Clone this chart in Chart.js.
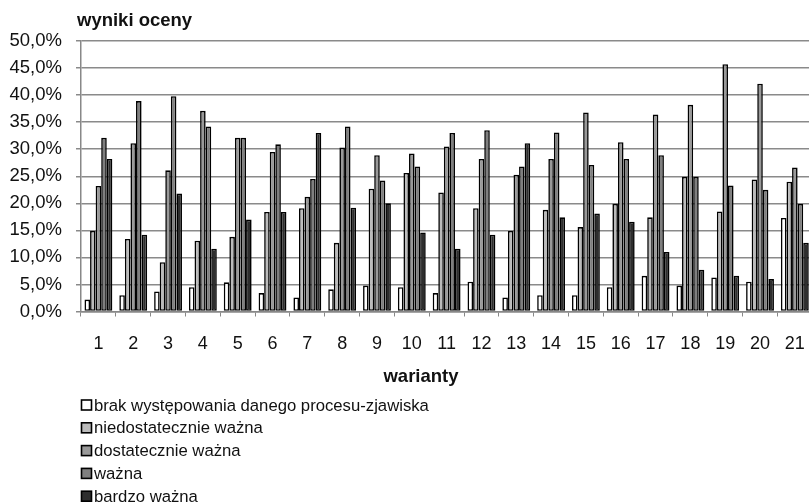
<!DOCTYPE html>
<html>
<head>
<meta charset="utf-8">
<script src="https://cdn.jsdelivr.net/npm/chart.js@4/dist/chart.umd.min.js"></script>
<style>
  html, body { margin: 0; padding: 0; background: #fff; }
  #wrap { width: 809px; height: 503px; overflow: hidden; position: relative; }
</style>
</head>
<body>
<div id="wrap"><canvas id="chart" width="822" height="503"></canvas></div>
<script>
// dane (w %)
const warianty = ['1','2','3','4','5','6','7','8','9','10','11','12','13','14','15','16','17','18','19','20','21'];
const nazwySerii = ['brak występowania danego procesu-zjawiska', 'niedostatecznie ważna', 'dostatecznie ważna', 'ważna', 'bardzo ważna'];
const brak =        [2.2, 3.0, 3.7, 4.5, 5.4, 3.4, 2.6, 4.1, 4.8, 4.5, 3.4, 5.5, 2.6, 3.0, 3.0, 4.5, 6.6, 4.8, 6.3, 5.5, 17.3];
const niedost =     [14.9, 13.4, 9.1, 13.1, 13.8, 18.4, 19.1, 12.7, 22.7, 25.6, 22.0, 19.1, 14.9, 18.8, 15.6, 19.9, 17.4, 24.9, 18.5, 24.4, 24.0];
const dost =        [23.2, 31.1, 26.1, 37.1, 32.1, 29.5, 21.2, 30.3, 28.9, 29.2, 30.5, 28.2, 25.3, 28.2, 36.8, 31.3, 36.4, 38.2, 45.7, 42.1, 26.6];
const wazna =       [32.1, 38.9, 39.8, 34.2, 32.1, 30.9, 24.5, 34.2, 24.2, 26.8, 33.0, 33.5, 26.8, 33.1, 27.1, 28.2, 28.9, 24.9, 23.3, 22.5, 19.9];
const bardzoWazna = [28.2, 14.2, 21.8, 11.6, 17.0, 18.4, 33.0, 19.2, 20.0, 14.6, 11.6, 14.2, 31.1, 17.4, 18.1, 16.6, 11.0, 7.7, 6.6, 6.0, 12.7];
const kolory = ['#ffffff', '#bbbbbb', '#999999', '#7f7f7f', '#2e2e2e'];

Chart.defaults.font.family = '"Liberation Sans", Arial, sans-serif';
Chart.defaults.color = '#111';

const serie = [brak, niedost, dost, wazna, bardzoWazna];

// tytuly osi i legenda rysowane recznie
const opisy = {
  id: 'opisy',
  afterDraw(chart) {
    const ctx = chart.ctx;
    ctx.save();
    ctx.fillStyle = '#111';
    ctx.font = 'bold 18.5px "Liberation Sans", Arial, sans-serif';
    ctx.textBaseline = 'alphabetic';
    ctx.textAlign = 'left';
    ctx.fillText('wyniki oceny', 77, 26);
    ctx.textAlign = 'center';
    ctx.textBaseline = 'middle';
    ctx.fillText('warianty', 421, 377);
    // legenda
    ctx.font = '16.7px "Liberation Sans", Arial, sans-serif';
    ctx.textAlign = 'left';
    chart.data.datasets.forEach((ds, i) => {
      const y = 405 + i * 22.8;
      ctx.fillStyle = ds.backgroundColor;
      ctx.fillRect(81.5, y - 5, 10, 10);
      ctx.strokeStyle = '#000';
      ctx.lineWidth = 1.6;
      ctx.strokeRect(81.5, y - 5, 10, 10);
      ctx.fillStyle = '#111';
      ctx.fillText(ds.label, 94, y + 1);
    });
    ctx.restore();
  }
};

new Chart(document.getElementById('chart'), {
  type: 'bar',
  data: {
    labels: warianty,
    datasets: serie.map((d, i) => ({
      label: nazwySerii[i],
      data: d,
      backgroundColor: kolory[i],
      borderColor: '#000',
      borderWidth: 1.6,
      borderSkipped: false,
      categoryPercentage: 0.8,
      barPercentage: 1.0
    }))
  },
  options: {
    responsive: false,
    animation: false,
    layout: { padding: { top: 41, right: 6, left: 0, bottom: 0 } },
    plugins: { legend: { display: false }, tooltip: { enabled: false } },
    scales: {
      x: {
        afterFit: s => { s.height = 191.5; },
        grid: { drawOnChartArea: false, drawTicks: true, tickLength: 5, color: '#888', offset: true },
        border: { color: '#888', width: 1.5 },
        ticks: { font: { size: 18 }, padding: 17, maxRotation: 0, autoSkip: false, color: '#111' }
      },
      y: {
        min: 0,
        max: 50,
        afterFit: s => { s.width = 81; },
        grid: { color: '#8a8a8a', lineWidth: 1.5, tickLength: 5 },
        border: { color: '#888', width: 1.5 },
        ticks: {
          stepSize: 5,
          padding: 14,
          font: { size: 18.5 },
          color: '#111',
          callback: v => v.toFixed(1).replace('.', ',') + '%'
        }
      }
    }
  },
  plugins: [opisy]
});
</script>
</body>
</html>
